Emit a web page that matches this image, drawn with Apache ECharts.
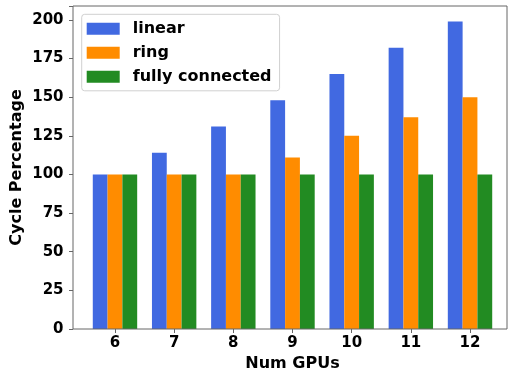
<!DOCTYPE html>
<html>
<head>
<meta charset="utf-8">
<script src="https://cdn.jsdelivr.net/npm/echarts@6/dist/echarts.min.js"></script>
<style>html,body{margin:0;padding:0;background:#fff;overflow:hidden}#c{width:508px;height:373px}</style>
</head>
<body>
<div id="c"></div>
<script>
const categories = ['6', '7', '8', '9', '10', '11', '12'];
const linear = [100, 114, 131, 148, 165, 182, 199];
const ring = [100, 100, 100, 111, 125, 137, 150];
const fullyConnected = [100, 100, 100, 100, 100, 100, 100];
const yTicks = { min: 0, max: 209, interval: 25 };

const FONT = 'DejaVu Sans';
const chart = echarts.init(document.getElementById('c'), null, { renderer: 'canvas', width: 508, height: 373 });
const axisGrey = '#666';
chart.setOption({
  animation: false,
  backgroundColor: '#fff',
  grid: { left: 85.4, right: 8.4, top: 6, bottom: 44, containLabel: false, outerBoundsMode: 'none' },
  legend: {
    orient: 'vertical',
    left: 81.7, top: 14.3,
    icon: 'rect',
    itemWidth: 33, itemHeight: 12,
    itemGap: 6,
    padding: [5.5, 8, 5, 5],
    borderColor: '#d0d0d0', borderWidth: 1, borderRadius: 3,
    backgroundColor: 'rgba(255,255,255,0.85)',
    textStyle: { fontFamily: FONT, fontWeight: 'bold', fontSize: 16, color: '#000', lineHeight: 18, padding: [0, 0, 0, 8] },
    z: 10
  },
  xAxis: {
    type: 'category',
    data: categories,
    name: 'Num GPUs',
    nameLocation: 'middle',
    nameGap: 24,
    nameTextStyle: { fontFamily: FONT, fontWeight: 'bold', fontSize: 16, color: '#000' },
    axisLine: { show: false },
    axisTick: { show: true, alignWithLabel: true, length: 4, lineStyle: { color: axisGrey } },
    axisLabel: { fontFamily: FONT, fontWeight: 'bold', fontSize: 15, color: '#000', margin: 7 },
    splitLine: { show: false }
  },
  yAxis: {
    type: 'value',
    min: yTicks.min, max: yTicks.max, interval: yTicks.interval,
    offset: 12.4,
    name: 'Cycle Percentage',
    nameLocation: 'middle',
    nameGap: 48,
    nameMoveOverlap: false,
    nameTextStyle: { fontFamily: FONT, fontWeight: 'bold', fontSize: 16, color: '#000' },
    axisLine: { show: false },
    axisTick: { show: true, length: 4, lineStyle: { color: axisGrey } },
    axisLabel: { fontFamily: FONT, fontWeight: 'bold', fontSize: 15, color: '#000', margin: 9.5,
      formatter: v => (v % 25 === 0 && v <= 200) ? String(v) : '' },
    splitLine: { show: false }
  },
  series: [
    { name: 'linear', type: 'bar', data: linear, barWidth: 14.8, barGap: '0%', itemStyle: { color: '#4169E1' } },
    { name: 'ring', type: 'bar', data: ring, barWidth: 14.8, barGap: '0%', itemStyle: { color: '#FF8C00' } },
    { name: 'fully connected', type: 'bar', data: fullyConnected, barWidth: 14.8, barGap: '0%', itemStyle: { color: '#228B22' } }
  ],
  graphic: [{
    type: 'rect',
    shape: { x: 73, y: 6, width: 434, height: 323 },
    style: { fill: null, stroke: axisGrey, lineWidth: 1 },
    z: 5, silent: true
  }]
});
</script>
</body>
</html>
